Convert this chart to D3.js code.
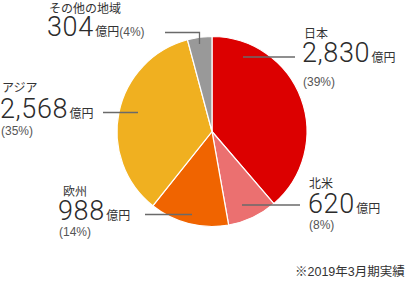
<!DOCTYPE html>
<head>
<meta charset="utf-8">
<title>地域別売上高</title>
<style>
  body { margin: 0; background: #fff; }
  text { font-family: "Liberation Sans", Arial, "Noto Sans CJK JP", sans-serif; fill: #333; }
  .num { font-family: Roboto, "Liberation Sans", sans-serif; font-weight: 300; fill: #2b2b2b; }
  .lbl, .unit { font-family: "Noto Sans CJK JP", sans-serif; }
</style>
</head>
<body>
<svg width="409" height="282"></svg>
<script src="https://d3js.org/d3.v7.min.js"></script>
<script>

    // data
    var regions = ["日本", "北米", "欧州", "アジア", "その他の地域"];
    var values = [2830, 620, 988, 2568, 304];
    var shares = [39, 8, 14, 35, 4];
    var colors = ["#dc0000", "#eb7070", "#f06400", "#f0b020", "#999999"];

    // label layout: text anchor, and leader line (pie side -> label side)
    var layout = [
        {x: 302, lx: 304, label: 38, value: 62, pct: 86, inline: false, line: [[243, 57], [295, 57]]},
        {x: 308, lx: 309, label: 188, value: 212.5, pct: 228.5, inline: false, line: [[242, 205], [300, 205]]},
        {x: 58, lx: 63, label: 196, value: 220, pct: 235.5, inline: false, line: [[192, 214.5], [145, 214.5]]},
        {x: 0, lx: 2, label: 92, value: 117.5, pct: 134.5, inline: false, line: [[138, 112.5], [103, 112.5]]},
        {x: 47, lx: 49, label: 13, value: 36, pct: 36, inline: true, line: [[199.5, 44], [199.5, 32.5], [165, 32.5]]}
    ];

    var svg = d3.select("svg");
    var cx = 212, cy = 131.5, r = 95;

    var pie = d3.pie().sort(null).value(d => d);
    var arc = d3.arc().innerRadius(0).outerRadius(r);

    var g = svg.append("g").attr("transform", "translate(" + cx + "," + cy + ")");
    g.selectAll("path")
        .data(pie(values))
        .enter().append("path")
            .attr("d", arc)
            .attr("fill", (d, i) => colors[i])
            .attr("stroke", "#fff")
            .attr("stroke-width", 1.2);

    // leader lines
    var line = d3.line();
    svg.selectAll(".leader")
        .data(layout)
        .enter().append("path")
            .attr("class", "leader")
            .attr("d", d => line(d.line))
            .attr("fill", "none")
            .attr("stroke", "#6a6a6a")
            .attr("stroke-width", 1.3);

    var fmt = d3.format(",");

    regions.forEach((name, i) => {
        var p = layout[i];
        svg.append("text").attr("class", "lbl")
            .attr("x", p.lx).attr("y", p.label)
            .attr("font-size", 12)
            .text(name);

        var t = svg.append("text").attr("x", p.x).attr("y", p.value);
        t.append("tspan").attr("class", "num").attr("font-size", 27).attr("letter-spacing", 0.6).text(fmt(values[i]));
        t.append("tspan").attr("class", "unit").attr("dx", 1.5).attr("font-size", 12).text("億円");
        if (p.inline) {
            t.append("tspan").attr("font-size", 12).style("fill", "#555").text("(" + shares[i] + "%)");
        } else {
            svg.append("text")
                .attr("x", p.x + 1).attr("y", p.pct)
                .attr("font-size", 12).style("fill", "#555")
                .text("(" + shares[i] + "%)");
        }
    });

    svg.append("text")
        .attr("x", 295).attr("y", 276)
        .attr("font-size", 12.5)
        .text("※2019年3月期実績");

</script>
</body>
